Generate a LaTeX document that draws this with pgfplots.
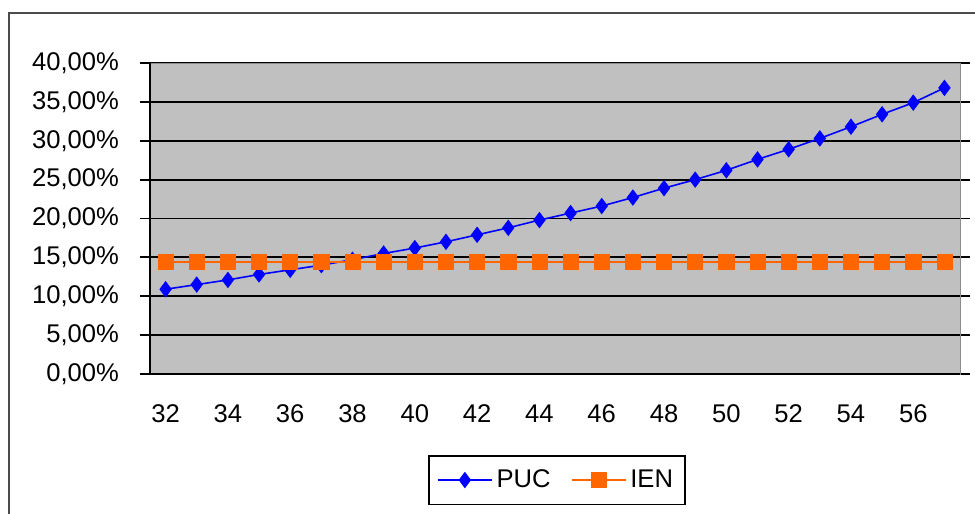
\documentclass[border=0pt]{standalone}
\usepackage{pgfplots}
\pgfplotsset{compat=1.18}
\usepackage{fontspec}
\setmainfont{Liberation Sans}
\definecolor{plotgray}{HTML}{C0C0C0}
\definecolor{ienorange}{HTML}{FF6600}

\pgfplotstableread{
age puc ien
32 10.9 14.4
33 11.5 14.4
34 12.1 14.4
35 12.8 14.4
36 13.4 14.4
37 14.0 14.4
38 14.7 14.4
39 15.5 14.4
40 16.2 14.4
41 17.0 14.4
42 17.9 14.4
43 18.8 14.4
44 19.8 14.4
45 20.7 14.4
46 21.6 14.4
47 22.7 14.4
48 23.9 14.4
49 25.0 14.4
50 26.2 14.4
51 27.6 14.4
52 28.9 14.4
53 30.3 14.4
54 31.8 14.4
55 33.4 14.4
56 34.9 14.4
57 36.8 14.4
}\datatable

\begin{document}
\begin{tikzpicture}
\useasboundingbox (0,0) rectangle (487.5pt,257pt);
\clip (0,0) rectangle (487.5pt,257pt);
% outer chart frame (cut by the image edges)
\draw[line width=1pt, black!70] (4.5pt,-20pt) -- (4.5pt,250.5pt) -- (520pt,250.5pt);
\begin{axis}[
    at={(75pt,70pt)}, anchor=origin,
    scale only axis,
    width=405pt, height=155.5pt,
    xmin=31.5, xmax=57.5,
    ymin=0, ymax=40,
    axis background/.style={fill=plotgray},
    axis line style={draw=black!45},
    font=\fontsize{12.8}{15}\selectfont,
    xtick={32,34,...,56},
    xticklabels={32,34,36,38,40,42,44,46,48,50,52,54,56},
    major x tick style={draw=none},
    extra x ticks={31.5,32.5,...,57.5},
    extra x tick labels={},
    extra x tick style={tick style={draw=black, line width=0.9pt}, major tick length=4pt, tick align=outside, grid=none},
    ytick={0,5,...,40},
    yticklabels={{0,00\%},{5,00\%},{10,00\%},{15,00\%},{20,00\%},{25,00\%},{30,00\%},{35,00\%},{40,00\%}},
    ytick style={draw=black, line width=0.9pt},
    major tick length=5pt,
    tick align=outside,
    ymajorgrids,
    grid style={black, line width=0.9pt},
    xticklabel style={yshift=-7pt},
    yticklabel style={xshift=-7pt},
    legend style={at={(0.5025,-0.341)}, anchor=center, draw=black, line width=0.9pt,
        font=\fontsize{12.8}{15}\selectfont, legend columns=2, inner xsep=4pt, inner ysep=5pt,
        /tikz/every even column/.append style={column sep=8pt}},
    legend image code/.code={\draw[mark repeat=2, mark phase=2] plot coordinates {(0pt,0pt) (13.5pt,0pt) (27pt,0pt)};},
    legend cell align=left,
    clip=false,
]
\addplot[color=blue, line width=0.8pt, mark=diamond*, mark size=3.8pt, mark options={fill=blue, line width=0.4pt}]
    table[x=age, y=puc] {\datatable};
\addlegendentry{PUC}
\addplot[color=ienorange, line width=0.8pt, mark=square*, mark size=3.8pt, mark options={fill=ienorange, line width=0.3pt}]
    table[x=age, y=ien] {\datatable};
\addlegendentry{IEN}
\draw[black, line width=0.9pt] (rel axis cs:0,1) -- (rel axis cs:0,0) -- (rel axis cs:1,0);
\end{axis}
\end{tikzpicture}
\end{document}
